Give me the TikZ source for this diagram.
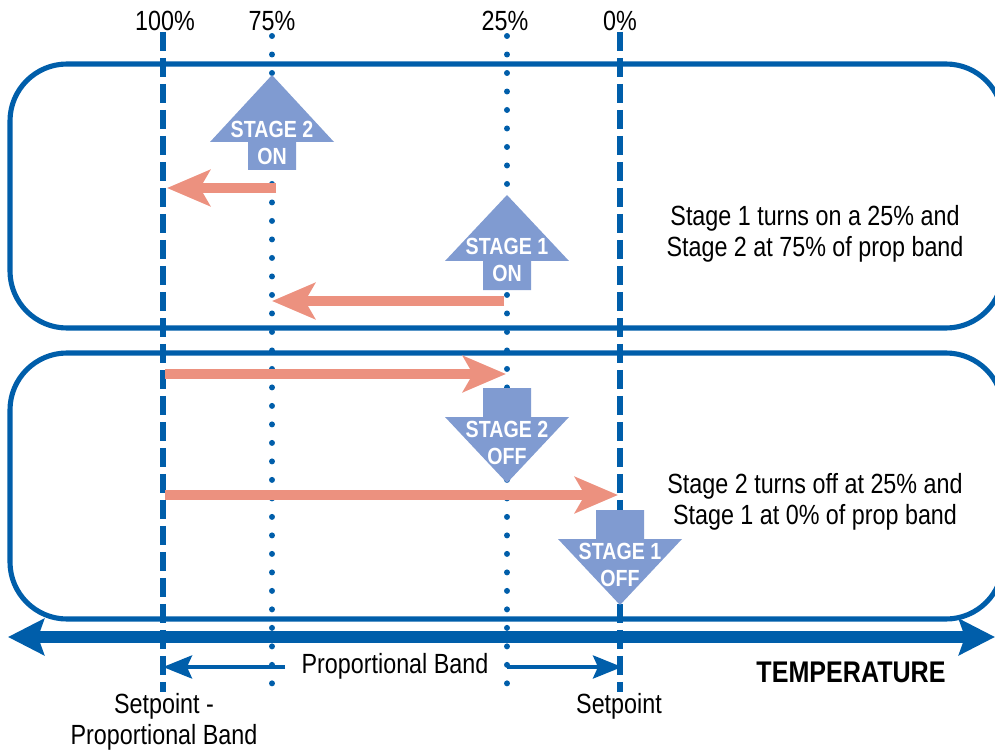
\documentclass[tikz,border=0pt]{standalone}
\usepackage{fontspec}
\setmainfont{Liberation Sans}[FakeStretch=0.84]
\usetikzlibrary{arrows.meta,positioning}
\definecolor{bandblue}{RGB}{0,94,170}
\definecolor{stagefill}{RGB}{128,155,209}
\definecolor{salmon}{RGB}{236,145,127}

\begin{document}
\begin{tikzpicture}[
    x=0.02cm, y=-0.02cm,
    band/.style={draw=bandblue,line width=2.9pt,rounded corners=1.14cm},
    axis/.style={bandblue,line width=6.3pt,{Stealth[length=0.72cm,width=0.72cm,inset=0.12cm]}-{Stealth[length=0.72cm,width=0.72cm,inset=0.12cm]}},
    setline/.style={bandblue,line width=3.1pt,dash pattern=on 0.38cm off 0.14cm},
    pctline/.style={bandblue,line width=3.4pt,line cap=round,dash pattern=on 0pt off 0.37cm},
    moveto/.style={salmon,line width=6pt,-{Stealth[length=0.86cm,width=0.72cm,inset=0.2cm]}},
    pbarrow/.style={bandblue,line width=2.3pt,-{Stealth[length=0.58cm,width=0.46cm,inset=0.1cm]}},
    stage/.style={fill=stagefill},
    stagetxt/.style={text=white,font=\bfseries\fontsize{13.3}{15.4}\selectfont,align=center,inner sep=0pt},
    lbl/.style={font=\fontsize{15.8}{17.5}\selectfont,align=center,inner sep=0pt}
  ]
  \useasboundingbox (0,0) rectangle (995,750);
  \clip (0,0) rectangle (995,750);

  % the two bands
  \draw[band] (10,64) rectangle (1003,328);
  \draw[band] (10,353) rectangle (1003,619);

  % temperature axis
  \coordinate (tleft) at (8,637);
  \coordinate (tright) at (995,637);
  \draw[axis] (tleft) -- (tright);

  % percentage labels and lines
  \node[lbl] (pct100) at (165,21) {100\%};
  \node[lbl] (pct75) at (272,21) {75\%};
  \node[lbl] (pct25) at (505,21) {25\%};
  \node[lbl] (pct0) at (620,21) {0\%};

  \coordinate (l100top) at (163,32);
  \coordinate (l100bot) at (163,692);
  \coordinate (l75top) at (272,36);
  \coordinate (l75bot) at (272,695);
  \coordinate (l25top) at (507,36);
  \coordinate (l25bot) at (507,695);
  \coordinate (l0top) at (620,32);
  \coordinate (l0bot) at (620,692);
  \draw[setline] (l100top) -- (l100bot);
  \draw[setline] (l0top) -- (l0bot);
  \draw[pctline] (l75top) -- (l75bot);
  \draw[pctline] (l25top) -- (l25bot);

  % moves along the band
  \coordinate (m1a) at (276,188);
  \coordinate (m1b) at (167,188);
  \coordinate (m2a) at (504,301);
  \coordinate (m2b) at (272,301);
  \coordinate (m3a) at (165,374);
  \coordinate (m3b) at (506,374);
  \coordinate (m4a) at (165,495);
  \coordinate (m4b) at (618,495);
  \draw[moveto] (m1a) -- (m1b);
  \draw[moveto] (m2a) -- (m2b);
  \draw[moveto] (m3a) -- (m3b);
  \draw[moveto] (m4a) -- (m4b);

  % stage arrows
  \fill[stage] (272,75) -- ++(62,67) -- ++(-38,0) -- ++(0,28) -- ++(-48,0) -- ++(0,-28) -- ++(-38,0) -- cycle;
  \node[stagetxt] (s2on) at (272,143) {STAGE 2\\ON};
  \fill[stage] (507,195) -- ++(62,66) -- ++(-38,0) -- ++(0,29) -- ++(-48,0) -- ++(0,-29) -- ++(-38,0) -- cycle;
  \node[stagetxt] (s1on) at (507,260) {STAGE 1\\ON};
  \fill[stage] (507,483) -- ++(62,-66) -- ++(-38,0) -- ++(0,-29) -- ++(-48,0) -- ++(0,29) -- ++(-38,0) -- cycle;
  \node[stagetxt] (s2off) at (507,443) {STAGE 2\\OFF};
  \fill[stage] (620,605) -- ++(62,-66) -- ++(-38,0) -- ++(0,-29) -- ++(-48,0) -- ++(0,29) -- ++(-38,0) -- cycle;
  \node[stagetxt] (s1off) at (620,565) {STAGE 1\\OFF};

  % notes
  \node[lbl] (noteon) at (815,234) {Stage 1 turns on a 25\% and\\Stage 2 at 75\% of prop band};
  \node[lbl] (noteoff) at (815,502) {Stage 2 turns off at 25\% and\\Stage 1 at 0\% of prop band};

  % proportional band
  \node[lbl] (pband) at (395,666) {Proportional Band};
  \coordinate (pbl) at (285,667);
  \coordinate (pbr) at (507,667);
  \draw[pbarrow] (pbl) -- (l100top |- pbl);
  \draw[pbarrow] (pbr) -- ([xshift=0.04cm]l0top |- pbr);

  \node[lbl] (spminus) at (164,722) {Setpoint -\\Proportional Band};
  \node[lbl] (sp) at (619,706) {Setpoint};
  \node[lbl,font=\bfseries\fontsize{17}{20}\selectfont] (temp) at (851,672) {TEMPERATURE};
\end{tikzpicture}
\end{document}
